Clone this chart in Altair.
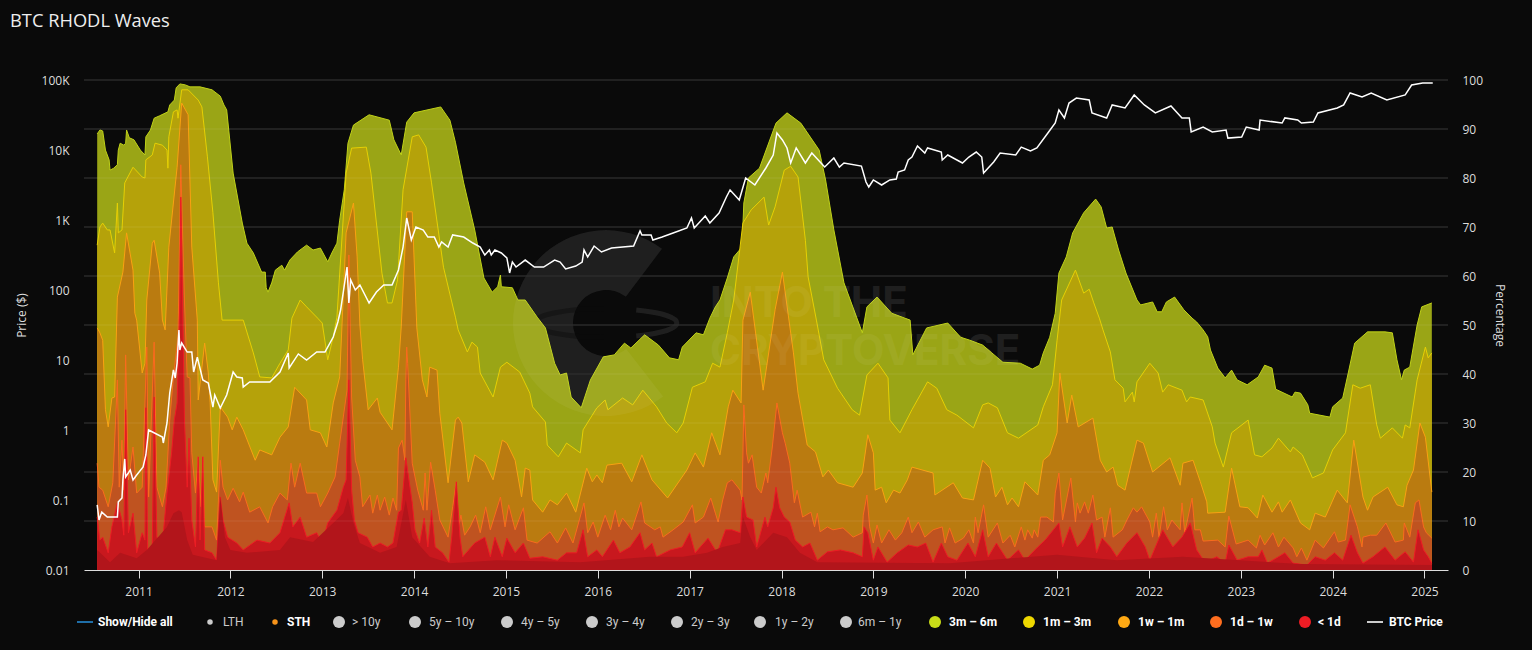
import altair as alt
import pandas as pd

# (decimal year, percent) - top edge of each wave
WAVE_3M_6M = [(2010.55,89.0),(2010.58,89.8),(2010.61,89.6),(2010.64,85.7),(2010.68,83.7),(2010.69,81.6),(2010.73,82.0),(2010.77,82.7),(2010.78,85.7),(2010.80,87.1),(2010.84,86.7),(2010.86,87.1),(2010.87,89.8),(2010.90,88.2),(2010.95,87.8),(2011.02,85.7),(2011.07,84.7),(2011.08,88.4),(2011.13,89.8),(2011.17,92.2),(2011.23,92.7),(2011.32,93.5),(2011.34,94.9),(2011.39,95.9),(2011.41,98.4),(2011.45,99.2),(2011.51,99.0),(2011.56,98.6),(2011.67,98.6),(2011.80,98.0),(2011.89,96.7),(2011.93,94.9),(2011.96,93.9),(2012.03,81.0),(2012.13,70.8),(2012.18,66.7),(2012.25,64.7),(2012.34,60.8),(2012.38,60.8),(2012.39,57.6),(2012.41,56.7),(2012.45,58.6),(2012.49,61.2),(2012.56,62.2),(2012.59,61.2),(2012.65,63.3),(2012.73,64.9),(2012.83,66.3),(2012.90,65.3),(2012.98,65.7),(2013.06,62.9),(2013.11,64.9),(2013.16,66.7),(2013.19,71.4),(2013.24,77.6),(2013.28,87.1),(2013.34,90.8),(2013.51,92.9),(2013.73,91.8),(2013.78,87.8),(2013.86,84.7),(2013.92,91.4),(2014.00,93.3),(2014.29,94.5),(2014.39,91.8),(2014.45,87.3),(2014.54,79.0),(2014.66,69.4),(2014.76,59.6),(2014.85,56.7),(2014.91,57.8),(2014.94,60.2),(2014.95,57.8),(2015.07,57.6),(2015.13,55.1),(2015.21,55.1),(2015.34,51.6),(2015.43,49.4),(2015.53,42.2),(2015.59,39.8),(2015.66,40.2),(2015.71,35.3),(2015.82,33.1),(2015.92,38.8),(2016.06,43.5),(2016.18,43.9),(2016.29,46.3),(2016.36,45.3),(2016.51,48.0),(2016.66,45.9),(2016.78,43.3),(2016.88,42.9),(2016.92,45.5),(2017.07,48.4),(2017.15,48.0),(2017.22,51.4),(2017.28,53.7),(2017.33,55.1),(2017.41,59.6),(2017.48,63.9),(2017.57,65.9),(2017.59,74.9),(2017.64,80.0),(2017.76,82.0),(2017.94,91.2),(2018.06,93.3),(2018.21,91.2),(2018.41,85.7),(2018.48,79.6),(2018.57,69.4),(2018.68,58.6),(2018.88,48.4),(2018.93,53.7),(2019.04,55.7),(2019.20,52.4),(2019.40,51.0),(2019.43,43.9),(2019.58,49.4),(2019.81,50.4),(2019.95,47.5),(2020.05,46.9),(2020.19,45.9),(2020.29,44.3),(2020.41,42.4),(2020.60,42.2),(2020.73,41.0),(2020.81,41.8),(2020.85,44.3),(2020.92,47.5),(2020.98,52.4),(2021.02,60.6),(2021.10,63.9),(2021.17,68.8),(2021.29,72.9),(2021.42,75.7),(2021.48,74.1),(2021.54,69.8),(2021.60,70.0),(2021.67,65.3),(2021.75,60.6),(2021.87,55.1),(2021.91,54.1),(2022.04,54.7),(2022.09,52.7),(2022.14,52.7),(2022.19,54.7),(2022.28,55.7),(2022.38,53.1),(2022.47,51.4),(2022.52,50.6),(2022.59,49.0),(2022.64,47.6),(2022.67,44.9),(2022.75,41.2),(2022.83,39.2),(2022.90,40.8),(2022.96,38.8),(2023.07,37.8),(2023.19,39.4),(2023.26,41.8),(2023.34,41.2),(2023.38,36.9),(2023.56,35.3),(2023.59,36.3),(2023.65,36.1),(2023.73,33.7),(2023.75,32.0),(2023.97,31.2),(2024.00,33.3),(2024.11,35.1),(2024.17,40.2),(2024.24,46.3),(2024.38,48.6),(2024.57,48.6),(2024.65,48.4),(2024.70,42.9),(2024.75,38.8),(2024.78,40.8),(2024.84,41.4),(2024.92,50.0),(2024.97,53.7),(2025.08,54.5)]

WAVE_1M_3M = [(2010.55,66.3),(2010.58,70.0),(2010.61,70.8),(2010.66,69.4),(2010.69,69.4),(2010.74,64.7),(2010.77,74.9),(2010.78,68.8),(2010.82,69.4),(2010.85,79.0),(2010.94,82.2),(2011.04,80.2),(2011.07,80.0),(2011.08,83.7),(2011.15,84.7),(2011.18,87.1),(2011.26,86.7),(2011.31,85.7),(2011.32,82.0),(2011.33,88.4),(2011.38,93.5),(2011.42,93.9),(2011.43,92.2),(2011.47,98.0),(2011.54,98.0),(2011.65,95.9),(2011.69,94.5),(2011.75,84.3),(2011.81,72.9),(2011.87,58.6),(2011.91,51.0),(2012.14,51.0),(2012.25,44.3),(2012.32,39.4),(2012.45,39.2),(2012.54,42.2),(2012.63,44.9),(2012.67,51.4),(2012.76,55.1),(2012.83,53.7),(2012.95,51.4),(2013.00,50.4),(2013.06,42.9),(2013.12,47.6),(2013.16,51.6),(2013.26,81.0),(2013.32,86.1),(2013.48,86.3),(2013.53,81.0),(2013.65,60.6),(2013.71,54.5),(2013.76,54.5),(2013.82,59.2),(2013.88,77.6),(2013.98,88.4),(2014.05,88.8),(2014.13,86.3),(2014.19,79.0),(2014.32,61.8),(2014.45,51.6),(2014.48,49.0),(2014.58,44.5),(2014.63,46.5),(2014.69,45.5),(2014.72,40.2),(2014.86,35.3),(2014.94,41.4),(2015.01,42.4),(2015.15,40.4),(2015.26,36.1),(2015.29,33.3),(2015.43,30.2),(2015.45,25.5),(2015.57,23.1),(2015.66,25.9),(2015.81,23.9),(2015.84,28.6),(2015.99,33.1),(2016.08,34.7),(2016.11,32.7),(2016.27,35.1),(2016.38,33.7),(2016.49,36.7),(2016.64,33.3),(2016.75,30.0),(2016.86,28.0),(2016.93,30.0),(2017.03,37.3),(2017.17,38.4),(2017.25,42.2),(2017.33,41.4),(2017.41,48.4),(2017.48,55.1),(2017.58,70.8),(2017.67,73.5),(2017.81,76.1),(2017.86,70.4),(2017.93,74.1),(2018.03,81.6),(2018.10,82.4),(2018.18,80.2),(2018.26,67.3),(2018.29,59.8),(2018.38,51.0),(2018.46,42.9),(2018.61,37.1),(2018.77,32.7),(2018.85,31.6),(2018.93,39.8),(2019.05,42.2),(2019.16,39.2),(2019.18,30.6),(2019.29,28.0),(2019.42,32.7),(2019.59,38.4),(2019.69,37.1),(2019.80,32.7),(2019.91,31.6),(2020.09,29.0),(2020.19,33.7),(2020.25,34.1),(2020.35,33.1),(2020.46,28.0),(2020.58,26.9),(2020.79,29.6),(2020.85,33.3),(2020.95,37.8),(2021.00,46.9),(2021.05,55.1),(2021.20,61.2),(2021.29,56.5),(2021.35,57.3),(2021.40,54.5),(2021.46,51.4),(2021.50,49.0),(2021.58,44.5),(2021.63,38.8),(2021.72,37.1),(2021.74,34.3),(2021.82,36.3),(2021.84,34.3),(2021.87,38.4),(2022.01,42.2),(2022.10,40.2),(2022.15,36.3),(2022.21,37.8),(2022.36,36.7),(2022.41,34.3),(2022.45,35.3),(2022.59,34.7),(2022.69,29.2),(2022.72,25.9),(2022.81,21.0),(2022.90,28.0),(2023.08,30.6),(2023.15,23.5),(2023.23,23.1),(2023.34,24.9),(2023.41,26.9),(2023.54,24.1),(2023.57,25.1),(2023.67,23.5),(2023.78,18.8),(2023.90,19.8),(2024.00,24.5),(2024.14,28.0),(2024.22,37.8),(2024.30,37.1),(2024.41,37.8),(2024.48,29.6),(2024.52,26.9),(2024.65,29.0),(2024.76,26.9),(2024.79,29.6),(2024.84,29.0),(2024.92,38.8),(2025.01,45.5),(2025.04,43.3),(2025.08,44.3)]

WAVE_1W_1M = [(2010.55,49.4),(2010.58,48.4),(2010.61,46.9),(2010.64,32.7),(2010.67,29.2),(2010.71,35.1),(2010.74,35.3),(2010.77,55.7),(2010.83,60.8),(2010.87,68.8),(2010.94,61.2),(2010.96,52.4),(2010.98,51.0),(2011.04,40.2),(2011.07,42.2),(2011.09,55.1),(2011.15,66.7),(2011.17,67.3),(2011.23,60.6),(2011.26,51.0),(2011.29,49.0),(2011.33,65.9),(2011.42,82.2),(2011.47,95.3),(2011.54,92.9),(2011.58,65.9),(2011.64,51.0),(2011.65,34.7),(2011.72,46.3),(2011.76,40.2),(2011.78,34.1),(2011.81,18.4),(2011.85,15.9),(2011.89,33.3),(2011.97,31.2),(2012.02,28.6),(2012.07,31.2),(2012.14,28.6),(2012.27,22.4),(2012.32,24.5),(2012.45,23.5),(2012.54,27.1),(2012.63,29.2),(2012.70,37.3),(2012.83,34.7),(2012.87,28.6),(2012.98,28.0),(2013.05,25.1),(2013.12,34.1),(2013.19,39.4),(2013.26,68.8),(2013.34,74.9),(2013.38,63.9),(2013.41,50.0),(2013.44,42.9),(2013.50,32.7),(2013.60,35.1),(2013.63,32.2),(2013.76,28.6),(2013.83,41.4),(2013.86,49.6),(2013.92,73.1),(2013.98,73.1),(2014.03,49.4),(2014.09,38.8),(2014.14,35.3),(2014.17,41.4),(2014.25,40.8),(2014.28,32.0),(2014.37,17.8),(2014.45,30.6),(2014.48,31.2),(2014.52,30.0),(2014.59,18.0),(2014.66,23.5),(2014.77,22.0),(2014.86,18.4),(2014.96,26.5),(2015.01,25.9),(2015.10,22.4),(2015.17,14.9),(2015.21,20.8),(2015.26,20.4),(2015.29,14.3),(2015.40,11.8),(2015.48,14.3),(2015.56,13.3),(2015.66,15.7),(2015.76,11.8),(2015.88,20.8),(2015.94,18.0),(2015.99,19.4),(2016.05,17.8),(2016.10,21.4),(2016.26,21.8),(2016.37,18.0),(2016.48,23.5),(2016.59,18.4),(2016.76,14.7),(2016.97,20.4),(2017.06,23.9),(2017.15,21.0),(2017.24,28.0),(2017.33,23.5),(2017.42,33.3),(2017.47,36.7),(2017.56,34.1),(2017.58,51.0),(2017.66,56.7),(2017.80,36.7),(2017.93,53.1),(2018.01,60.8),(2018.13,44.3),(2018.18,36.1),(2018.28,25.5),(2018.37,24.1),(2018.45,19.0),(2018.51,20.4),(2018.61,17.8),(2018.78,16.9),(2018.88,19.8),(2018.94,27.6),(2019.00,23.9),(2019.02,16.3),(2019.09,16.9),(2019.14,13.7),(2019.22,16.3),(2019.29,15.7),(2019.37,18.4),(2019.42,21.0),(2019.65,19.8),(2019.67,15.3),(2019.87,17.8),(2019.97,14.7),(2020.09,14.3),(2020.19,22.4),(2020.27,20.8),(2020.33,14.9),(2020.40,16.9),(2020.46,13.3),(2020.51,14.7),(2020.58,12.9),(2020.65,18.0),(2020.79,15.3),(2020.85,22.4),(2020.92,23.5),(2021.00,28.0),(2021.03,40.2),(2021.11,30.0),(2021.16,35.7),(2021.23,29.2),(2021.39,31.0),(2021.47,22.4),(2021.54,20.0),(2021.61,21.0),(2021.66,17.3),(2021.74,16.3),(2021.87,26.5),(2021.94,25.9),(2022.04,20.0),(2022.23,22.9),(2022.34,17.3),(2022.37,21.8),(2022.48,22.4),(2022.56,18.0),(2022.63,13.9),(2022.64,11.6),(2022.83,11.8),(2022.90,20.8),(2022.99,12.9),(2023.08,12.7),(2023.18,10.6),(2023.24,15.3),(2023.34,11.8),(2023.41,13.9),(2023.45,11.8),(2023.54,14.3),(2023.65,9.6),(2023.75,8.2),(2023.81,11.6),(2023.92,10.8),(2024.05,16.3),(2024.16,13.7),(2024.23,26.5),(2024.33,14.9),(2024.38,12.2),(2024.44,14.9),(2024.60,16.9),(2024.70,13.3),(2024.77,12.9),(2024.81,17.3),(2024.88,20.4),(2024.95,30.0),(2025.01,27.1),(2025.08,15.9)]

WAVE_1D_1W = [(2010.55,21.8),(2010.57,16.9),(2010.61,16.3),(2010.67,12.9),(2010.72,17.8),(2010.77,38.8),(2010.79,16.9),(2010.82,26.5),(2010.84,16.3),(2010.86,43.9),(2010.89,18.4),(2010.94,25.1),(2010.98,15.7),(2011.04,16.9),(2011.09,45.5),(2011.11,14.9),(2011.17,46.5),(2011.20,16.9),(2011.26,12.9),(2011.30,16.9),(2011.34,30.6),(2011.38,39.4),(2011.43,47.6),(2011.46,82.7),(2011.50,55.1),(2011.53,39.4),(2011.56,39.2),(2011.58,23.9),(2011.62,15.7),(2011.65,23.1),(2011.68,12.9),(2011.70,23.1),(2011.72,8.8),(2011.80,8.8),(2011.85,6.1),(2011.89,22.4),(2011.92,16.9),(2011.97,14.3),(2012.03,16.7),(2012.10,13.9),(2012.14,15.9),(2012.21,11.8),(2012.32,12.9),(2012.41,9.6),(2012.46,12.9),(2012.54,15.7),(2012.62,14.3),(2012.66,21.8),(2012.70,16.9),(2012.76,21.8),(2012.83,15.7),(2012.94,15.7),(2012.98,12.9),(2013.06,15.7),(2013.14,19.0),(2013.19,25.9),(2013.27,36.7),(2013.29,64.3),(2013.32,35.3),(2013.36,22.4),(2013.41,19.0),(2013.44,12.9),(2013.52,15.3),(2013.55,11.6),(2013.60,15.3),(2013.63,12.2),(2013.68,14.9),(2013.73,11.2),(2013.77,14.7),(2013.81,12.2),(2013.83,24.9),(2013.87,26.5),(2013.90,22.4),(2013.91,38.8),(2013.92,45.5),(2013.93,42.2),(2013.98,21.8),(2014.01,19.0),(2014.04,16.3),(2014.10,12.2),(2014.12,19.8),(2014.14,12.2),(2014.18,22.0),(2014.23,16.3),(2014.28,10.2),(2014.37,6.7),(2014.42,12.9),(2014.46,18.0),(2014.48,8.2),(2014.51,11.2),(2014.55,7.1),(2014.61,8.8),(2014.67,11.2),(2014.72,7.6),(2014.78,12.9),(2014.83,8.2),(2014.94,14.9),(2014.99,8.8),(2015.03,13.3),(2015.10,8.2),(2015.19,12.7),(2015.23,6.1),(2015.34,5.5),(2015.48,7.8),(2015.56,5.5),(2015.65,8.6),(2015.73,5.5),(2015.85,13.7),(2015.89,7.6),(2015.95,9.8),(2016.00,6.7),(2016.08,11.2),(2016.14,8.2),(2016.19,12.2),(2016.23,8.8),(2016.27,10.6),(2016.37,8.2),(2016.47,13.9),(2016.51,9.6),(2016.62,8.2),(2016.68,8.8),(2016.71,6.7),(2016.82,8.2),(2016.93,9.8),(2017.03,13.3),(2017.06,9.6),(2017.15,10.8),(2017.23,14.7),(2017.28,11.6),(2017.31,9.8),(2017.36,14.3),(2017.41,17.8),(2017.46,18.4),(2017.55,16.3),(2017.57,14.3),(2017.59,33.7),(2017.62,23.9),(2017.64,21.8),(2017.68,23.5),(2017.73,16.9),(2017.78,15.7),(2017.83,19.8),(2017.85,17.8),(2017.90,25.1),(2017.95,34.1),(2018.01,28.0),(2018.04,25.9),(2018.09,21.8),(2018.14,13.7),(2018.17,16.3),(2018.23,10.8),(2018.32,11.8),(2018.36,8.8),(2018.39,11.6),(2018.42,7.8),(2018.50,8.8),(2018.56,8.2),(2018.67,8.6),(2018.78,6.7),(2018.88,7.6),(2018.89,11.2),(2018.93,15.3),(2018.96,8.8),(2019.00,5.5),(2019.04,9.2),(2019.09,5.5),(2019.17,8.2),(2019.24,6.1),(2019.31,7.6),(2019.38,10.8),(2019.42,7.6),(2019.49,9.8),(2019.56,6.7),(2019.65,8.2),(2019.75,8.8),(2019.78,5.5),(2019.83,8.6),(2019.89,5.5),(2019.98,6.5),(2020.04,8.2),(2020.09,5.5),(2020.11,10.8),(2020.14,7.6),(2020.20,13.3),(2020.25,6.7),(2020.35,9.6),(2020.41,5.5),(2020.49,7.1),(2020.54,4.7),(2020.61,8.8),(2020.65,6.1),(2020.68,8.2),(2020.73,6.5),(2020.75,8.2),(2020.79,6.7),(2020.82,10.8),(2020.89,10.8),(2020.96,9.8),(2020.98,15.7),(2021.02,19.8),(2021.06,10.2),(2021.15,18.8),(2021.20,9.8),(2021.22,13.7),(2021.25,11.6),(2021.30,13.9),(2021.34,11.6),(2021.39,15.3),(2021.43,10.2),(2021.49,10.8),(2021.52,6.7),(2021.58,12.7),(2021.61,6.7),(2021.71,8.2),(2021.76,10.2),(2021.83,12.7),(2021.87,11.8),(2021.92,12.9),(2022.01,9.8),(2022.04,6.7),(2022.08,11.6),(2022.11,6.7),(2022.16,12.9),(2022.20,8.2),(2022.25,10.2),(2022.34,8.2),(2022.36,13.7),(2022.39,7.6),(2022.47,14.7),(2022.50,8.2),(2022.56,8.2),(2022.59,5.9),(2022.75,6.1),(2022.83,4.7),(2022.87,11.0),(2022.95,5.3),(2023.08,6.1),(2023.17,4.5),(2023.21,7.1),(2023.26,5.1),(2023.35,7.6),(2023.41,4.7),(2023.47,6.7),(2023.57,4.5),(2023.61,2.7),(2023.66,4.5),(2023.72,2.0),(2023.81,6.1),(2023.90,4.5),(2024.02,7.8),(2024.06,5.7),(2024.14,6.1),(2024.19,13.3),(2024.27,8.8),(2024.32,4.7),(2024.33,6.7),(2024.41,7.1),(2024.48,7.1),(2024.58,9.6),(2024.68,5.7),(2024.77,6.1),(2024.78,9.6),(2024.84,6.7),(2024.90,13.7),(2024.94,14.3),(2024.99,8.8),(2025.02,7.6),(2025.08,6.5)]

WAVE_LT_1D = [(2010.55,10.8),(2010.58,6.1),(2010.61,6.7),(2010.67,3.5),(2010.71,8.8),(2010.77,13.7),(2010.82,10.2),(2010.84,7.1),(2010.86,32.7),(2010.89,7.6),(2010.94,11.6),(2010.98,3.5),(2011.04,7.6),(2011.07,6.1),(2011.08,33.1),(2011.10,4.1),(2011.15,5.1),(2011.17,35.3),(2011.20,6.7),(2011.26,5.5),(2011.31,15.7),(2011.36,23.9),(2011.39,30.6),(2011.42,34.1),(2011.45,55.1),(2011.46,76.1),(2011.48,55.1),(2011.50,30.6),(2011.53,16.9),(2011.55,26.9),(2011.58,10.2),(2011.62,4.7),(2011.65,23.1),(2011.67,6.1),(2011.70,23.1),(2011.72,4.1),(2011.80,3.5),(2011.85,2.0),(2011.89,14.9),(2011.92,10.2),(2011.97,6.7),(2012.07,5.5),(2012.14,4.1),(2012.29,6.1),(2012.43,5.5),(2012.54,7.6),(2012.64,13.7),(2012.68,8.8),(2012.76,10.8),(2012.83,6.7),(2012.94,7.6),(2013.00,5.5),(2013.06,9.6),(2013.16,12.2),(2013.23,16.9),(2013.26,18.4),(2013.29,38.8),(2013.32,16.3),(2013.35,10.2),(2013.39,7.6),(2013.49,6.7),(2013.55,4.7),(2013.63,5.5),(2013.71,4.7),(2013.77,5.5),(2013.83,11.8),(2013.86,12.2),(2013.91,22.9),(2013.98,13.7),(2014.01,8.2),(2014.06,5.5),(2014.11,10.6),(2014.15,4.7),(2014.19,12.2),(2014.23,4.7),(2014.31,3.5),(2014.38,1.6),(2014.41,6.7),(2014.46,18.0),(2014.50,6.7),(2014.53,2.7),(2014.66,5.5),(2014.77,6.7),(2014.83,2.7),(2014.88,6.7),(2014.96,2.7),(2015.01,6.5),(2015.10,3.5),(2015.19,5.5),(2015.26,2.4),(2015.40,2.7),(2015.56,2.0),(2015.66,3.5),(2015.77,3.5),(2015.84,8.2),(2015.89,2.7),(2015.99,4.1),(2016.05,2.7),(2016.17,6.1),(2016.24,3.5),(2016.35,4.7),(2016.46,7.6),(2016.51,4.1),(2016.59,5.5),(2016.64,2.7),(2016.79,4.1),(2016.92,4.7),(2017.00,7.6),(2017.06,3.5),(2017.20,6.5),(2017.30,3.5),(2017.39,8.2),(2017.46,8.2),(2017.55,7.6),(2017.58,14.9),(2017.62,10.8),(2017.69,10.2),(2017.73,4.7),(2017.82,10.8),(2017.85,8.8),(2017.91,12.7),(2017.94,16.9),(2017.98,12.7),(2018.03,10.8),(2018.09,9.8),(2018.15,6.1),(2018.23,4.7),(2018.31,5.5),(2018.39,2.0),(2018.50,3.7),(2018.64,4.1),(2018.78,3.5),(2018.88,2.7),(2018.90,8.8),(2018.94,7.6),(2019.00,2.0),(2019.05,4.7),(2019.15,1.6),(2019.26,3.5),(2019.38,5.1),(2019.48,4.7),(2019.57,5.5),(2019.65,1.6),(2019.74,5.5),(2019.81,2.7),(2019.91,2.0),(2020.03,5.5),(2020.11,2.7),(2020.19,8.2),(2020.25,2.7),(2020.34,5.5),(2020.46,2.0),(2020.58,4.1),(2020.65,2.0),(2020.79,4.7),(2020.87,6.1),(2020.96,8.2),(2021.02,9.6),(2021.06,4.7),(2021.14,8.8),(2021.22,4.7),(2021.30,6.5),(2021.38,9.6),(2021.43,3.5),(2021.49,6.5),(2021.58,4.7),(2021.65,2.7),(2021.76,5.5),(2021.87,7.6),(2021.96,4.7),(2022.01,2.0),(2022.15,8.2),(2022.26,4.7),(2022.36,6.7),(2022.45,9.6),(2022.52,4.1),(2022.61,1.6),(2022.74,2.7),(2022.83,1.4),(2022.87,5.1),(2022.96,2.0),(2023.08,2.7),(2023.19,2.7),(2023.23,4.1),(2023.29,1.4),(2023.41,2.7),(2023.48,3.5),(2023.57,1.4),(2023.72,1.0),(2023.81,2.7),(2023.92,2.0),(2024.02,3.5),(2024.11,2.0),(2024.20,7.1),(2024.27,3.5),(2024.33,1.4),(2024.44,2.7),(2024.57,4.7),(2024.68,2.0),(2024.79,3.7),(2024.88,1.6),(2024.93,8.2),(2024.99,4.1),(2025.04,2.7),(2025.08,1.4)]

# lower envelope of the daily <1d spikes (the solid dark-red floor)
FLOOR_LT_1D = [(2010.55,4.1),(2010.69,1.6),(2010.80,3.5),(2010.98,2.4),(2011.09,4.1),(2011.31,8.8),(2011.38,11.6),(2011.44,12.2),(2011.47,11.8),(2011.53,6.1),(2011.59,3.1),(2011.85,2.0),(2011.89,14.9),(2011.94,6.7),(2012.00,4.1),(2012.18,3.5),(2012.54,4.1),(2012.65,6.7),(2012.90,5.7),(2013.12,9.6),(2013.23,11.6),(2013.28,14.7),(2013.34,9.6),(2013.41,5.5),(2013.63,3.5),(2013.81,4.7),(2013.91,14.3),(2013.98,6.7),(2014.17,2.7),(2014.39,1.4),(2014.90,2.0),(2015.81,1.6),(2016.57,2.7),(2016.93,2.7),(2017.19,3.5),(2017.36,4.7),(2017.55,5.5),(2017.58,10.8),(2017.66,6.7),(2017.73,4.1),(2017.91,7.6),(2018.06,6.7),(2018.20,3.5),(2018.39,1.6),(2019.83,1.4),(2021.00,3.1),(2021.65,2.0),(2022.37,2.7),(2023.65,1.2),(2025.08,1.0)]

# (decimal year, USD)
BTC_PRICE = [(2010.55,.085),(2010.57,.052),(2010.60,.067),(2010.66,.057),(2010.77,.057),(2010.78,.094),(2010.82,.107),(2010.83,.193),(2010.85,.386),(2010.86,.213),(2010.91,.268),(2010.94,.193),(2010.98,.228),(2011.05,.296),(2011.08,.44),(2011.11,1.0),(2011.26,.794),(2011.27,.652),(2011.31,1.26),(2011.34,3.38),(2011.38,7.2),(2011.40,5.53),(2011.42,9.06),(2011.44,26.8),(2011.45,13.9),(2011.47,17.5),(2011.53,13),(2011.58,13),(2011.60,6.74),(2011.64,11),(2011.70,5.18),(2011.76,4.69),(2011.81,2.13),(2011.83,3.16),(2011.89,2.06),(2011.96,3.16),(2012.03,6.74),(2012.07,5.71),(2012.13,5.53),(2012.14,4.11),(2012.21,4.85),(2012.43,4.85),(2012.54,6.74),(2012.63,12.6),(2012.64,7.69),(2012.74,12.2),(2012.83,10),(2012.94,13),(2013.03,13),(2013.12,21.3),(2013.17,34.9),(2013.20,51.8),(2013.27,213),(2013.29,65.2),(2013.31,139),(2013.36,100),(2013.41,118),(2013.51,65.2),(2013.59,93.5),(2013.67,118),(2013.76,118),(2013.83,193),(2013.88,411),(2013.92,1069),(2013.97,518),(2014.02,794),(2014.10,720),(2014.15,571),(2014.22,571),(2014.27,411),(2014.30,485),(2014.37,411),(2014.42,611),(2014.54,571),(2014.64,469),(2014.72,411),(2014.77,316),(2014.82,373),(2014.84,316),(2014.88,373),(2014.95,338),(2015.01,287),(2015.04,175),(2015.07,251),(2015.11,213),(2015.21,268),(2015.31,213),(2015.41,213),(2015.53,268),(2015.59,251),(2015.65,200),(2015.76,220),(2015.83,251),(2015.85,373),(2015.89,296),(2015.96,425),(2016.04,349),(2016.15,398),(2016.39,425),(2016.46,697),(2016.48,611),(2016.58,611),(2016.60,518),(2016.70,571),(2016.82,652),(2016.97,769),(2017.02,1069),(2017.05,769),(2017.17,1140),(2017.22,906),(2017.32,1259),(2017.40,2133),(2017.44,2683),(2017.54,1932),(2017.61,3981),(2017.71,3162),(2017.83,5534),(2017.91,8483),(2017.95,17500),(2018.01,13900),(2018.06,10690),(2018.10,6520),(2018.16,10690),(2018.26,6520),(2018.33,9060),(2018.47,5710),(2018.57,7690),(2018.63,5710),(2018.68,6520),(2018.87,5900),(2018.92,3490),(2018.95,2960),(2019.00,3730),(2019.09,3162),(2019.18,3730),(2019.25,3850),(2019.27,4850),(2019.34,5180),(2019.38,7200),(2019.42,7940),(2019.48,11400),(2019.56,9060),(2019.59,10690),(2019.74,9350),(2019.75,7200),(2019.81,8480),(2019.97,6520),(2020.04,7940),(2020.12,9350),(2020.18,7940),(2020.20,4690),(2020.31,6740),(2020.38,9060),(2020.55,8480),(2020.61,11000),(2020.71,9680),(2020.78,10690),(2020.90,17500),(2020.98,24300),(2021.02,37300),(2021.08,28700),(2021.13,46900),(2021.21,55300),(2021.35,51800),(2021.38,33800),(2021.54,28700),(2021.60,44000),(2021.74,39800),(2021.84,61100),(2021.95,44000),(2022.07,33800),(2022.24,42500),(2022.36,28700),(2022.44,28700),(2022.46,18100),(2022.59,21300),(2022.69,18100),(2022.84,19300),(2022.86,14800),(2023.01,15300),(2023.06,21300),(2023.20,19300),(2023.21,26800),(2023.45,24300),(2023.48,28700),(2023.62,26800),(2023.66,24300),(2023.79,25100),(2023.84,33800),(2024.05,39800),(2024.12,44000),(2024.19,65200),(2024.32,57100),(2024.42,65200),(2024.59,51800),(2024.79,61100),(2024.86,84800),(2024.98,90600),(2025.09,90600)]

YEAR_TICKS = list(range(2011, 2026))
PCT_TICKS = list(range(0, 101, 10))
PRICE_TICKS = [0.01, 0.1, 1, 10, 100, 1000, 10000, 100000]

BG = "#0a0a0a"
FONT = "Open Sans"
LEGEND_FONT = "Roboto"

# fill colour as it appears on the dark background, then the edge colour
WAVES = [
    (WAVE_3M_6M, "#9AA516", "#BFD118"),
    (WAVE_1M_3M, "#B5A20A", "#E6D004"),
    (WAVE_1W_1M, "#BA7B10", "#F9A112"),
    (WAVE_1D_1W, "#BF5320", "#F96C1D"),
    (WAVE_LT_1D, "#C8181E", "#ED1C24"),
]

X = alt.X("year:Q", scale=alt.Scale(domain=[2010.4065, 2025.256], nice=False, zero=False),
          axis=alt.Axis(values=YEAR_TICKS, format="d", title=None, grid=False, domainColor="#dddddd",
                        tickColor="#dddddd", tickSize=8, labelColor="#dddddd", labelFont=FONT,
                        labelFontSize=12, labelPadding=8, labelFlush=False, labelOverlap=False))
PCT_SCALE = alt.Scale(domain=[0, 100], nice=False)
Y_AXIS = alt.Axis(values=PCT_TICKS, orient="right", title="Percentage", titleColor="#dddddd",
                  titleFont=FONT, titleFontSize=12, titleFontWeight="normal", titlePadding=10, titleY=235,
                  labelColor="#dddddd", labelFont=FONT, labelFontSize=12, labelPadding=14,
                  ticks=False, domain=False, grid=False)
Y_PLAIN = alt.Y("pct:Q", scale=PCT_SCALE, axis=None)


def table(pairs, second="pct"):
    return pd.DataFrame(pairs, columns=["year", second])


LOGO_ROW = pd.DataFrame({"a": [0]})
RING_LEFT = "M 0 -0.2 A 1 0.2 0 0 0 0 0.2"
RING_RIGHT = "M 0.42 -0.18 A 1 0.2 0 0 1 0.42 0.18"


def watermark(logo, ring_dark, text, opacity):
    arc = alt.Chart(LOGO_ROW).mark_arc(color=logo, opacity=opacity, radius=93, radius2=33, theta=2.48, theta2=6.93).encode(
        x=alt.value(522), y=alt.value(243))
    parts = [arc]
    if ring_dark:
        parts.append(alt.Chart(LOGO_ROW).mark_point(shape=RING_LEFT, size=20736, filled=False, stroke=ring_dark,
                                                    strokeWidth=5, opacity=1).encode(x=alt.value(522), y=alt.value(243)))
    parts.append(alt.Chart(LOGO_ROW).mark_point(shape=RING_RIGHT, size=20736, filled=False, stroke=logo,
                                                strokeWidth=5, opacity=opacity).encode(x=alt.value(522), y=alt.value(243)))
    for word, base in (("INTO THE", 237), ("CRYPTOVERSE", 285)):
        parts.append(alt.Chart(LOGO_ROW).mark_text(text=word, font="Inter", fontWeight="bold", fontSize=42, align="left",
                                                   baseline="alphabetic", color=text, opacity=opacity).encode(
            x=alt.value(626), y=alt.value(base)))
    return parts


# the percent axis and the grid under everything
layers = [alt.Chart(pd.DataFrame({"pct": PCT_TICKS[1:]})).mark_rule(color="#262626").encode(
    y=alt.Y("pct:Q", scale=PCT_SCALE, axis=Y_AXIS))]
layers.extend(watermark("#131313", "#0a0a0a", "#131313", 1))

for pairs, fill, edge in WAVES:
    df = table(pairs)
    layers.append(alt.Chart(df).mark_area(color=fill, opacity=1, clip=True).encode(x=X, y=Y_PLAIN))
    layers.append(alt.Chart(df).mark_line(color=edge, strokeWidth=1, clip=True).encode(x=X, y=Y_PLAIN))

layers.append(alt.Chart(table(FLOOR_LT_1D)).mark_area(color="#B2151B", opacity=1, clip=True).encode(x=X, y=Y_PLAIN))

# the grid and watermark shine faintly through the semi-transparent waves
layers.extend(watermark("#ffffff", None, "#ffffff", 0.05))
layers.append(alt.Chart(pd.DataFrame({"pct": PCT_TICKS[1:]})).mark_rule(color="#ffffff", opacity=0.09).encode(y=Y_PLAIN))

price = alt.Chart(table(BTC_PRICE, "price")).mark_line(color="#ffffff", strokeWidth=1.5, clip=True).encode(
    x=X,
    y=alt.Y("price:Q", scale=alt.Scale(type="log", domain=[0.01, 100000], nice=False),
            axis=alt.Axis(values=PRICE_TICKS, orient="left", title="Price ($)", titleColor="#dddddd",
                          titleFont=FONT, titleFontSize=12, titleFontWeight="normal", titlePadding=13, titleY=235,
                          labelColor="#dddddd", labelFont=FONT, labelFontSize=12, labelPadding=15,
                          ticks=False, domain=False, grid=False,
                          labelExpr="datum.value >= 1000 ? (datum.value / 1000) + 'K' : datum.value")))

# Title and hand-placed legend
heading = alt.Chart(LOGO_ROW).mark_text(text="BTC RHODL Waves", font=FONT, fontSize=18.3, color="#eeeeee", align="left",
                                        baseline="middle").encode(x=alt.value(-74), y=alt.value(-58))

LEGEND_LABELS = ["Show/Hide all", "LTH", "STH", "> 10y", "5y – 10y", "4y – 5y", "3y – 4y", "2y – 3y", "1y – 2y",
                 "6m – 1y", "3m – 6m", "1m – 3m", "1w – 1m", "1d – 1w", "< 1d", "BTC Price"]
LEGEND_TEXT_X = [98, 223, 287, 352, 429, 521, 606, 691, 775, 858, 949, 1043, 1138, 1230, 1318, 1389]
LEGEND_MARK_X = [85, 210, 275, 339, 415, 507, 592, 677, 760, 846, 935, 1029, 1124, 1216, 1305, 1375]
LEGEND_COLORS = ["#1f6ea8", "#cccccc", "#f7931a", "#cccccc", "#cccccc", "#cccccc", "#cccccc", "#cccccc", "#cccccc",
                 "#cccccc", "#c9dc18", "#eed800", "#ffa914", "#ff6e1f", "#ed1c24", "#cccccc"]
LEGEND_ON = [True, False, True, False, False, False, False, False, False, False, True, True, True, True, True, True]

legend_parts = []
for lab, tx, mx, col, on in zip(LEGEND_LABELS, LEGEND_TEXT_X, LEGEND_MARK_X, LEGEND_COLORS, LEGEND_ON):
    legend_parts.append(alt.Chart(LOGO_ROW).mark_text(text=lab, font=LEGEND_FONT, fontSize=12,
                                                      fontWeight="bold" if on else "normal",
                                                      color="#ffffff" if on else "#cccccc", align="left",
                                                      baseline="middle").encode(x=alt.value(tx - 84), y=alt.value(542)))
    if lab in ("Show/Hide all", "BTC Price"):
        legend_parts.append(alt.Chart(LOGO_ROW).mark_rule(color=col, strokeWidth=2).encode(
            x=alt.value(mx - 84 - 8), x2=alt.value(mx - 84 + 8), y=alt.value(542)))
    else:
        size = 30 if lab in ("LTH", "STH") else 144
        legend_parts.append(alt.Chart(LOGO_ROW).mark_point(shape="circle", filled=True, opacity=1, color=col, size=size).encode(
            x=alt.value(mx - 84), y=alt.value(542)))

chart = alt.layer(*layers, price, heading, *legend_parts).resolve_scale(y="independent").properties(
    width=1364, height=490, background=BG, autosize="none",
    padding={"left": 76, "top": 72, "right": 76, "bottom": 68}
).configure_view(stroke=None)

chart.save("out.html", embed_options={"renderer": "svg", "actions": False,
                                      "defaultStyle": "html, body { background: #0a0a0a; }"})
